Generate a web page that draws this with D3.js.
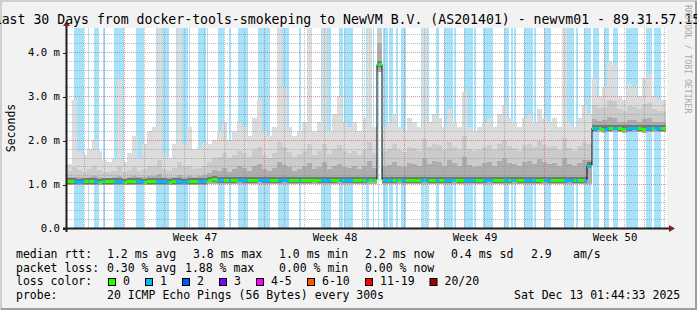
<!DOCTYPE html>
<html>
<head>
<meta charset="utf-8">
<script src="https://cdnjs.cloudflare.com/ajax/libs/d3/7.8.5/d3.min.js"></script>
<style>
  body { margin: 0; background: #f2f2f2; }
  svg { display: block; }
  text { font-family: "DejaVu Sans Mono", monospace; fill: #000; }
</style>
</head>
<body>
<div id="chart"></div>
<script>
// chart values
var titleText = "Last 30 Days from docker-tools-smokeping to NewVM B.V. (AS201401) - newvm01 - 89.31.57.15";
var yTickValues = [0, 1, 2, 3, 4];
var yTickLabels = ["0.0", "1.0 m", "2.0 m", "3.0 m", "4.0 m"];
var weekLabels = ["Week 47", "Week 48", "Week 49", "Week 50"];
var weekStarts = ["2025-11-16", "2025-11-23", "2025-11-30", "2025-12-07"];

// one bin = 6 hours, 120 bins = 30 days (ms)
var median = [
  1.06,1.07,1.05,1.06,1.07,1.06,1.05,1.06,1.07,1.06, 1.06,1.05,1.06,1.07,1.06,1.05,1.06,1.06,1.07,1.06,
  1.05,1.06,1.06,1.05,1.06,1.07,1.06,1.07,1.10,
  1.11,1.09,1.08,1.09,1.09,1.10,1.09,1.08,1.09,1.10, 1.09,1.09,1.08,1.09,1.10,1.09,1.09,1.08,1.09,1.09,
  1.10,1.09,1.08,1.09,1.09,1.10,1.09,1.09,1.08,1.09, 1.09,1.10,1.10,
  3.72,
  1.09,1.08,1.09,1.10,1.09,1.09,1.08,1.09,1.10,1.09, 1.09,1.08,1.09,1.09,1.10,1.09,1.08,1.09,1.09,1.08,
  1.09,1.10,1.09,1.09,1.08,1.09,1.10,1.09,1.09,1.08, 1.09,1.09,1.10,1.09,1.08,1.09,1.09,1.10,1.09,1.08,
  1.09,
  1.42,
  2.27,2.28,2.26,2.27,2.28,2.27,2.26,2.27,2.28,2.27,2.26,2.27,2.28,2.27,2.27
];
var smokeMax = [
  1.45,2.9,1.75,1.65,1.8,2.0,1.75,1.55,1.5,1.6, 3.4,1.5,1.7,2.1,1.6,1.9,2.2,2.3,4.6,1.7,
  1.6,1.9,4.6,1.9,2.3,1.8,1.85,1.95,1.9,
  2.0,2.2,2.4,2.0,2.2,2.4,2.3,2.1,2.5,2.9, 2.2,2.1,2.3,4.6,3.2,2.3,2.1,2.2,2.4,4.6,
  2.2,2.4,4.6,2.2,2.6,3.0,2.4,2.3,2.4,2.2, 2.5,4.6,2.3,
  4.6,
  2.3,2.4,2.6,2.3,2.2,2.5,2.4,2.3,4.6,2.4, 2.6,2.5,2.3,2.7,2.4,2.3,3.1,2.3,2.2,2.3,
  2.4,2.5,2.3,2.6,2.8,2.5,2.4,2.3,2.5,2.6, 2.4,2.7,2.5,2.4,2.5,2.3,4.6,2.4,2.3,2.5,
  2.8,
  2.6,
  3.4,3.0,3.2,3.8,3.7,3.0,2.9,3.3,3.2,3.0,3.4,3.5,3.0,2.9,2.9
];
var smokeHigh = [
  1.30,1.38,1.32,1.28,1.34,1.40,1.32,1.28,1.27,1.30, 1.42,1.28,1.32,1.38,1.30,1.35,1.40,1.42,1.55,1.34,
  1.30,1.36,1.50,1.38,1.42,1.35,1.37,1.42,1.50,
  1.60,1.62,1.70,1.58,1.66,1.75,1.70,1.62,1.78,1.85, 1.66,1.60,1.70,1.95,1.85,1.72,1.62,1.68,1.76,1.90,
  1.66,1.74,1.92,1.68,1.80,1.88,1.74,1.70,1.76,1.66, 1.78,1.95,1.70,
  4.6,
  1.75,1.80,1.90,1.78,1.72,1.85,1.82,1.76,2.05,1.84, 1.92,1.88,1.78,1.95,1.84,1.78,2.10,1.80,1.74,1.78,
  1.84,1.88,1.78,1.92,2.00,1.86,1.82,1.76,1.88,1.92, 1.84,1.98,1.88,1.84,1.86,1.78,2.05,1.82,1.76,1.86,
  1.95,
  1.9,
  2.80,2.72,2.76,2.90,2.88,2.70,2.66,2.78,2.76,2.70,2.82,2.84,2.70,2.66,2.66
];
var smokeMid = [
  1.15,1.17,1.15,1.14,1.16,1.18,1.15,1.14,1.14,1.15, 1.19,1.14,1.16,1.18,1.15,1.16,1.18,1.19,1.22,1.16,
  1.15,1.17,1.21,1.17,1.19,1.17,1.18,1.20,1.26,
  1.32,1.30,1.36,1.28,1.34,1.40,1.36,1.30,1.42,1.45, 1.34,1.30,1.36,1.50,1.44,1.38,1.30,1.35,1.40,1.48,
  1.34,1.38,1.50,1.35,1.42,1.46,1.38,1.36,1.40,1.34, 1.42,1.52,1.36,
  4.2,
  1.40,1.44,1.50,1.42,1.38,1.48,1.46,1.40,1.58,1.46, 1.52,1.50,1.42,1.55,1.48,1.42,1.62,1.44,1.38,1.42,
  1.48,1.50,1.42,1.52,1.58,1.48,1.46,1.40,1.50,1.52, 1.46,1.56,1.50,1.46,1.48,1.42,1.58,1.46,1.40,1.48,
  1.55,
  1.55,
  2.48,2.44,2.46,2.52,2.50,2.42,2.40,2.46,2.45,2.42,2.48,2.50,2.42,2.40,2.40
];
var smokeMin = [
  0.98,0.97,0.98,0.98,0.97,0.98,0.98,0.97,0.98,0.98, 0.97,0.98,0.98,0.97,0.98,0.98,0.97,0.98,0.98,0.97,
  0.98,0.98,0.97,0.98,0.98,0.97,0.98,0.98,0.99,
  1.00,1.00,0.99,1.00,1.00,1.00,0.99,1.00,1.00,1.00, 0.99,1.00,1.00,1.00,0.99,1.00,1.00,1.00,0.99,1.00,
  1.00,1.00,0.99,1.00,1.00,1.00,0.99,1.00,1.00,1.00, 0.99,1.00,1.00,
  3.55,
  1.00,0.99,1.00,1.00,1.00,0.99,1.00,1.00,1.00,0.99, 1.00,1.00,1.00,0.99,1.00,1.00,1.00,0.99,1.00,1.00,
  1.00,0.99,1.00,1.00,1.00,0.99,1.00,1.00,1.00,0.99, 1.00,1.00,1.00,0.99,1.00,1.00,1.00,0.99,1.00,1.00,
  1.00,
  1.00,
  2.18,2.18,2.17,2.18,2.18,2.18,2.17,2.18,2.18,2.18,2.17,2.18,2.18,2.18,2.18
];

// periods with packet loss (1/20), in days from the start of the graph
var lossPeriods = [
  [0.35,0.85],[1.05,1.10],[1.35,1.60],[1.80,1.90],[2.35,2.85],[3.45,3.85],[4.45,5.10],[5.45,6.05],
  [6.10,6.15],[6.55,6.95],[7.02,7.05],[7.55,7.85],[8.10,8.20],[8.55,9.05],[9.55,10.15],[10.55,11.10],
  [11.60,11.70],[12.70,13.20],[13.60,13.80],[13.85,14.30],[14.75,14.80],[14.95,15.10],[15.30,15.35],
  [15.55,15.60],[15.80,16.05],[16.10,16.30],[16.45,16.55],[16.70,16.95],[17.70,17.85],[17.90,18.10],
  [18.45,18.60],[18.85,19.30],[19.35,19.45],[19.85,20.30],[20.35,20.45],[20.80,21.30],[21.85,22.10],
  [22.20,22.30],[22.35,22.45],[22.85,23.30],[23.35,23.45],[23.85,24.20],[24.85,25.35],[25.45,25.55],
  [25.85,26.20],[26.30,26.60],[26.85,27.10],[27.30,27.55],[27.95,28.55],[28.95,29.25],[29.35,29.70]
];

var lossLabels = ["0", "1", "2", "3", "4-5", "6-10", "11-19", "20/20"];
var lossColors = ["#26ff00", "#00b8ff", "#0059ff", "#7e00ff", "#ff00ff", "#ff5500", "#ff0000", "#a10000"];

var rttStats = ["1.2 ms avg", "3.8 ms max", "1.0 ms min", "2.2 ms now", "0.4 ms sd", "2.9", "am/s"];
var lossStats = ["0.30 % avg", "1.88 % max", "0.00 % min", "0.00 % now"];
var probeText = "20 ICMP Echo Pings (56 Bytes) every 300s";
var stampText = "Sat Dec 13 01:44:33 2025";

var svgWidth = 697;
var svgHeight = 310;

var margin = { top: 28, right: 30, bottom: 82, left: 67 };
var width = svgWidth - margin.left - margin.right;
var height = svgHeight - margin.top - margin.bottom;

var binHours = 6;
var startTime = new Date(Date.UTC(2025, 10, 13, 3, 0, 0));
var endTime = new Date(Date.UTC(2025, 11, 13, 3, 0, 0));
var nowTime = new Date(Date.UTC(2025, 11, 13, 1, 44, 33));

function dayToDate(d) { return new Date(startTime.getTime() + d * 864e5); }
function binDate(i) { return new Date(startTime.getTime() + i * binHours * 3600e3); }

var graph = d3.select("#chart")
  .append("svg")
  .attr("width", svgWidth)
  .attr("height", svgHeight);

// background + 3d frame
graph.append("rect").attr("width", svgWidth).attr("height", svgHeight).attr("fill", "#f2f2f2");
graph.append("path").attr("d", `M1,${svgHeight} V1 H${svgWidth}`)
  .attr("fill", "none").attr("stroke", "#cfcfcf").attr("stroke-width", 2);
graph.append("path").attr("d", `M${svgWidth - 1},1 V${svgHeight - 1} H1`)
  .attr("fill", "none").attr("stroke", "#9e9e9e").attr("stroke-width", 2);

var xScale = d3.scaleUtc().domain([startTime, endTime]).range([0, width]);
var yScale = d3.scaleLinear().domain([0, height / 44]).range([height, 0]);

var chartGroup = graph.append("g")
  .attr("transform", `translate(${margin.left}, ${margin.top})`);

chartGroup.append("clipPath").attr("id", "plotclip")
  .append("rect").attr("width", xScale(nowTime)).attr("height", height);

chartGroup.append("rect").attr("width", width).attr("height", height).attr("fill", "#ffffff");

var plot = chartGroup.append("g").attr("clip-path", "url(#plotclip)")
  .attr("shape-rendering", "crispEdges");

// loss stripes
plot.selectAll("rect.loss")
  .data(lossPeriods)
  .enter()
  .append("rect")
  .attr("class", "loss")
  .attr("x", p => Math.round(xScale(dayToDate(p[0]))))
  .attr("width", p => Math.max(1, Math.round(xScale(dayToDate(p[1]))) - Math.round(xScale(dayToDate(p[0])))))
  .attr("y", 0)
  .attr("height", height)
  .attr("fill", "#a6e3fa");

// smoke
var yTop = yScale.domain()[1] + 0.1;
var smokeLayers = [
  { top: smokeMax, color: "#dcdcdc" },
  { top: smokeHigh, color: "#cbcbcb" },
  { top: smokeMid, color: "#adadad" }
];
smokeLayers.forEach(function(layer) {
  plot.append("g").selectAll("rect")
    .data(median)
    .enter()
    .append("rect")
    .attr("x", (d, i) => xScale(binDate(i)))
    .attr("width", (d, i) => xScale(binDate(i + 1)) - xScale(binDate(i)))
    .attr("y", (d, i) => yScale(Math.min(layer.top[i], yTop)))
    .attr("height", (d, i) => yScale(smokeMin[i]) - yScale(Math.min(layer.top[i], yTop)))
    .attr("fill", layer.color);
});
plot.append("g").selectAll("rect")
  .data(median)
  .enter()
  .append("rect")
  .attr("x", (d, i) => xScale(binDate(i)))
  .attr("width", (d, i) => xScale(binDate(i + 1)) - xScale(binDate(i)))
  .attr("y", d => yScale(d + 0.07))
  .attr("height", d => yScale(d - 0.06) - yScale(d + 0.07))
  .attr("fill", "#767676");

// median: black step line, then loss coloured line on top
var stepPoints = median.map((m, i) => ({ t: binDate(i), v: m }));
stepPoints.push({ t: binDate(median.length), v: median[median.length - 1] });
plot.append("path")
  .datum(stepPoints)
  .attr("fill", "none")
  .attr("stroke", "#000")
  .attr("stroke-width", 1)
  .attr("shape-rendering", "auto")
  .attr("d", d3.line().x(d => xScale(d.t)).y(d => yScale(d.v)).curve(d3.curveStepAfter));

var cols = d3.range(0, width).map(function(px) {
  var t = xScale.invert(px + 0.5);
  var bin = Math.floor((t - startTime) / (binHours * 3600e3));
  var day = (t - startTime) / 864e5;
  var lost = lossPeriods.some(p => day >= p[0] && day < p[1]);
  return { px: px, v: median[bin], loss: lost ? 1 : 0 };
}).filter(c => c.v !== undefined);

plot.append("g").selectAll("rect")
  .data(cols)
  .enter()
  .append("rect")
  .attr("x", c => c.px)
  .attr("width", 1)
  .attr("y", c => Math.round(yScale(c.v)) - 1)
  .attr("height", 3)
  .attr("fill", c => lossColors[c.loss]);

// grid (dotted, drawn over the data like rrdtool)
var gridGroup = chartGroup.append("g").attr("shape-rendering", "crispEdges");
var minorY = d3.range(0.2, yScale.domain()[1], 0.2).filter(v => Math.abs(v - Math.round(v)) > 0.01);
gridGroup.selectAll("line.hminor")
  .data(minorY)
  .enter()
  .append("line")
  .attr("x1", -2).attr("x2", width)
  .attr("y1", v => Math.round(yScale(v)) + 0.5)
  .attr("y2", v => Math.round(yScale(v)) + 0.5)
  .attr("stroke", "#8f8f8f").attr("stroke-opacity", 0.6)
  .attr("stroke-dasharray", "1,1");

var days = d3.utcDay.range(startTime, endTime).filter(d => d.getUTCDay() !== 0);
gridGroup.selectAll("line.vminor")
  .data(days)
  .enter()
  .append("line")
  .attr("x1", d => Math.floor(xScale(d)) + 0.5)
  .attr("x2", d => Math.floor(xScale(d)) + 0.5)
  .attr("y1", 0).attr("y2", height)
  .attr("stroke", "#8f8f8f").attr("stroke-opacity", 0.6)
  .attr("stroke-dasharray", "1,1");

gridGroup.selectAll("line.hmajor")
  .data(yTickValues.filter(v => v > 0))
  .enter()
  .append("line")
  .attr("x1", 0).attr("x2", width)
  .attr("y1", v => Math.round(yScale(v)) + 0.5)
  .attr("y2", v => Math.round(yScale(v)) + 0.5)
  .attr("stroke", "#de5050").attr("stroke-opacity", 0.6)
  .attr("stroke-dasharray", "1,1");

var weekDates = weekStarts.map(s => new Date(s + "T00:00:00Z"));
gridGroup.selectAll("line.vmajor")
  .data(weekDates)
  .enter()
  .append("line")
  .attr("x1", d => Math.floor(xScale(d)) + 0.5)
  .attr("x2", d => Math.floor(xScale(d)) + 0.5)
  .attr("y1", 0).attr("y2", height)
  .attr("stroke", "#de5050").attr("stroke-opacity", 0.6)
  .attr("stroke-dasharray", "1,1");

// axes
var leftAxis = d3.axisLeft(yScale)
  .tickValues(yTickValues)
  .tickFormat((d, i) => yTickLabels[i])
  .tickSize(4)
  .tickPadding(3);
var yAxisG = chartGroup.append("g").call(leftAxis);
yAxisG.select(".domain").remove();
yAxisG.selectAll(".tick line").attr("stroke", "#1f1f1f").attr("shape-rendering", "crispEdges")
  .attr("transform", "translate(0,0.5)");
yAxisG.selectAll("text").style("font-family", "'DejaVu Sans Mono', monospace")
  .style("font-size", "10.6px").attr("fill", "#000");

var labelDates = weekDates.map(d => new Date(d.getTime() + 3.5 * 864e5));
var bottomAxis = d3.axisBottom(xScale)
  .tickValues(labelDates)
  .tickFormat((d, i) => weekLabels[i])
  .tickSize(0)
  .tickPadding(5.5);
var xAxisG = chartGroup.append("g").attr("transform", `translate(0, ${height})`).call(bottomAxis);
xAxisG.select(".domain").remove();
xAxisG.selectAll("text").style("font-family", "'DejaVu Sans Mono', monospace")
  .style("font-size", "10.6px").attr("fill", "#000");

chartGroup.append("line")
  .attr("x1", -4).attr("x2", width + 4)
  .attr("y1", height + 0.5).attr("y2", height + 0.5)
  .attr("stroke", "#1f1f1f").attr("stroke-width", 2);
chartGroup.append("line")
  .attr("x1", -0.5).attr("x2", -0.5)
  .attr("y1", height + 4).attr("y2", -3)
  .attr("stroke", "#1f1f1f").attr("stroke-width", 2);
chartGroup.append("path")
  .attr("d", `M${width + 2},${height - 3} L${width + 8},${height + 0.5} L${width + 2},${height + 4} Z`)
  .attr("fill", "#801f1f");
chartGroup.append("path")
  .attr("d", `M-4,-2 L-0.5,-7 L3,-2 Z`)
  .attr("fill", "#801f1f");

// title (wider than the picture, as in the original), axis title, watermark
graph.append("text")
  .attr("x", 347)
  .attr("y", 24)
  .attr("text-anchor", "middle")
  .style("font-size", "13.2px")
  .text(titleText);

graph.append("text")
  .attr("transform", `translate(15, ${margin.top + height / 2}) rotate(-90)`)
  .attr("text-anchor", "middle")
  .style("font-size", "11.5px")
  .text("Seconds");

graph.append("text")
  .attr("transform", "translate(684.5, 5) rotate(90)")
  .style("font-size", "8.2px")
  .style("fill", "#a9a9a9")
  .text("RRDTOOL / TOBI OETIKER");

// legend
var legend = graph.append("g").style("font-size", "11.5px");
var rttX = [107, 193, 279, 365, 451, 531, 573];
var lossX = [107, 185, 279, 365];
legend.append("text").attr("x", 16).attr("y", 258).text("median rtt:");
rttStats.forEach((s, i) => legend.append("text").attr("x", rttX[i]).attr("y", 258).text(s));
legend.append("text").attr("x", 16).attr("y", 271.7).text("packet loss:");
lossStats.forEach((s, i) => legend.append("text").attr("x", lossX[i]).attr("y", 271.7).text(s));
legend.append("text").attr("x", 16).attr("y", 285.3).text("loss color:");

var boxX = [108.5, 145.5, 182.5, 219.5, 256.5, 307.5, 365.5, 430];
var swatch = legend.selectAll("g.swatch")
  .data(lossLabels)
  .enter()
  .append("g");
swatch.append("rect")
  .attr("x", (d, i) => boxX[i])
  .attr("y", 278.5)
  .attr("width", 7)
  .attr("height", 7)
  .attr("fill", (d, i) => lossColors[i])
  .attr("stroke", "#000")
  .attr("stroke-width", 1);
swatch.append("text")
  .attr("x", (d, i) => boxX[i] + 14.5)
  .attr("y", 285.3)
  .text(d => d);

legend.append("text").attr("x", 16).attr("y", 299).text("probe:");
legend.append("text").attr("x", 107).attr("y", 299).text(probeText);
legend.append("text").attr("x", 514).attr("y", 299).text(stampText);
</script>
</body>
</html>
